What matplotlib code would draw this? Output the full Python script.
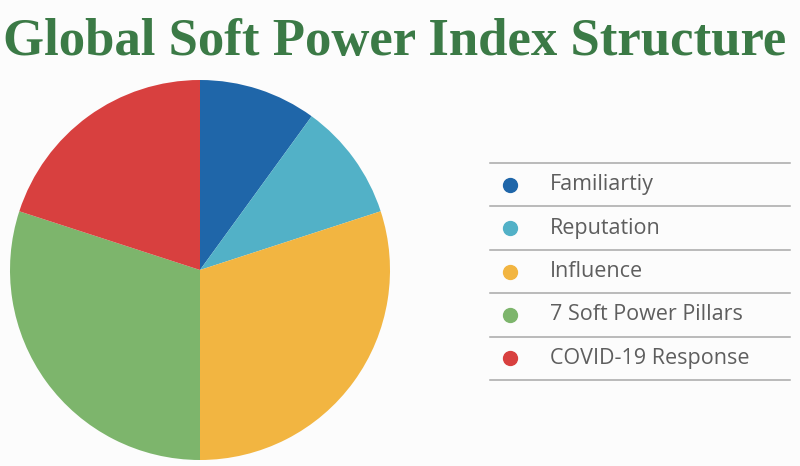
import matplotlib
matplotlib.use("Agg")
import matplotlib.pyplot as plt

# data
labels = ["Familiartiy", "Reputation", "Influence", "7 Soft Power Pillars", "COVID-19 Response"]
shares = [10, 10, 30, 30, 20]
colors = ["#1f66a9", "#52b1c7", "#f2b541", "#7db56c", "#d8403f"]
title = "Global Soft Power Index Structure"

W, H = 800, 466
fig = plt.figure(figsize=(W / 100, H / 100), dpi=100, facecolor="#fcfcfc")

# pie, centre (200, 270) px, radius 190 px
ax = fig.add_axes([10 / W, 1 - 460 / H, 380 / W, 380 / H])
ax.pie(shares, colors=colors, startangle=90, counterclock=False,
       wedgeprops=dict(linewidth=0))
ax.set_xlim(-1, 1)
ax.set_ylim(-1, 1)
ax.set_aspect("equal")
ax.axis("off")

fig.text(395 / W, 1 - 42 / H, title, ha="center", va="center",
         fontsize=38, fontweight="bold", family="Liberation Serif",
         color="#3b7a46")

# legend drawn by hand: rows separated by grey rules
lg = fig.add_axes([0, 0, 1, 1], facecolor="none")
lg.set_xlim(0, W)
lg.set_ylim(H, 0)
lg.axis("off")
top, step = 163, 43.4
for i, (lab, col) in enumerate(zip(labels, colors)):
    y0 = top + i * step
    lg.plot([490, 790], [y0, y0], color="#a8a8a8", lw=1.1)
    yc = y0 + step / 2
    lg.scatter([510], [yc], s=100, color=col, zorder=3)
    lg.text(550, yc, lab, ha="left", va="center", fontsize=15.5,
            family="Open Sans", color="#5e5e5e")
lg.plot([490, 790], [top + 5 * step] * 2, color="#a8a8a8", lw=1.1)

fig.savefig("out.png", dpi=100, facecolor=fig.get_facecolor())
